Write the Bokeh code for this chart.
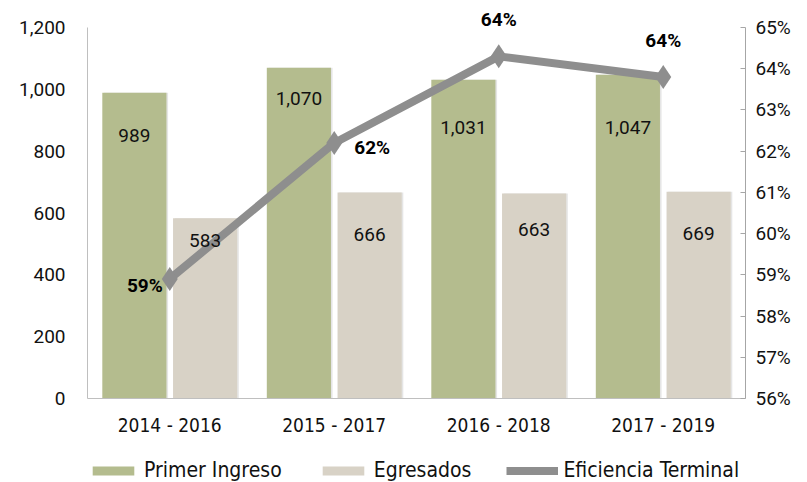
from bokeh.plotting import figure
from bokeh.layouts import column
from bokeh.models import (ColumnDataSource, Range1d, LinearAxis, FactorRange, Legend, LegendItem,
                          NumeralTickFormatter, FixedTicker)
from bokeh.transform import dodge
from bokeh.core.properties import value
from bokeh.embed import file_html
from bokeh.resources import INLINE

categories = ["2014 - 2016", "2015 - 2017", "2016 - 2018", "2017 - 2019"]
primer_ingreso = [989, 1070, 1031, 1047]
egresados = [583, 666, 663, 669]
eficiencia = [0.589, 0.622, 0.643, 0.638]
left_ticks = [0, 200, 400, 600, 800, 1000, 1200]
right_ticks = [0.56, 0.57, 0.58, 0.59, 0.60, 0.61, 0.62, 0.63, 0.64, 0.65]
series_names = ["Primer Ingreso", "Egresados", "Eficiencia Terminal"]

# label placement (screen px offsets, positive = down)
pi_label_dy = [43, 31, 48, 53]
eg_label_dy = [22, 42, 36, 42]
ef_dx = [-7, 20, 0, 0]
ef_dy = [7, 5, -37, -36]
ef_align = ["right", "left", "center", "center"]

GREEN = "#B4BC8E"
BEIGE = "#D8D2C6"
GRAY = "#8E8E8E"
COND = "'DejaVu Sans Condensed', 'Roboto'"

# headroom above the axis top so the top labels are not clipped
HEAD = 22 / 371
p = figure(x_range=FactorRange(*categories), y_range=Range1d(0, 1200 * (1 + HEAD)),
           width=807, height=450, output_backend="svg", toolbar_location=None,
           min_border_left=87, min_border_right=62, min_border_top=5, min_border_bottom=52)
p.outline_line_color = None
p.xgrid.visible = False
p.ygrid.visible = False
p.extra_y_ranges = {"pct": Range1d(0.56, 0.65 + 0.09 * HEAD)}

src = ColumnDataSource(dict(cat=categories, pi=primer_ingreso, eg=egresados, ef=eficiencia,
                            pi_txt=[f"{v:,}" for v in primer_ingreso],
                            eg_txt=[f"{v:,}" for v in egresados],
                            ef_txt=[f"{round(v*100):d}%" for v in eficiencia],
                            pi_dy=pi_label_dy, eg_dy=eg_label_dy,
                            ef_dx=ef_dx, ef_dy=ef_dy, ef_align=ef_align))

# soft shadows
p.vbar(x=dodge("cat", -0.205, range=p.x_range), top="pi", width=0.39, source=src,
       fill_color="#000000", fill_alpha=0.10, line_color=None)
p.vbar(x=dodge("cat", 0.225, range=p.x_range), top="eg", width=0.39, source=src,
       fill_color="#000000", fill_alpha=0.10, line_color=None)

p.vbar(x=dodge("cat", -0.215, range=p.x_range), top="pi", width=0.39, source=src,
       fill_color=GREEN, line_color=None)
p.vbar(x=dodge("cat", 0.215, range=p.x_range), top="eg", width=0.39, source=src,
       fill_color=BEIGE, line_color=None)

p.line(x="cat", y="ef", source=src, y_range_name="pct", line_color=GRAY, line_width=8)
p.scatter(x="cat", y="ef", source=src, y_range_name="pct", marker="diamond", size=24,
          fill_color=GRAY, line_color=None)

p.text(x=dodge("cat", -0.215, range=p.x_range), y="pi", text="pi_txt", y_offset="pi_dy", source=src,
       text_align="center", text_baseline="middle", text_font=value("Roboto"),
       text_font_size="19px", text_color="#111111")
p.text(x=dodge("cat", 0.215, range=p.x_range), y="eg", text="eg_txt", y_offset="eg_dy", source=src,
       text_align="center", text_baseline="middle", text_font=value("Roboto"),
       text_font_size="19px", text_color="#111111")
p.text(x="cat", y="ef", text="ef_txt", x_offset="ef_dx", y_offset="ef_dy", text_align="ef_align",
       y_range_name="pct", source=src, text_baseline="middle", text_font=value("Roboto"),
       text_font_style="bold", text_font_size="19px", text_color="#000000")

# axes
p.yaxis.ticker = FixedTicker(ticks=left_ticks)
p.yaxis.bounds = (left_ticks[0], left_ticks[-1])
p.yaxis.formatter = NumeralTickFormatter(format="0,0")
p.yaxis.major_tick_line_color = None
p.yaxis.minor_tick_line_color = None
p.yaxis.axis_line_color = "#BFBFBF"
p.yaxis.major_label_text_font = "Roboto"
p.yaxis.major_label_text_font_size = "19px"
p.yaxis.major_label_text_color = "#111111"
p.yaxis.major_label_standoff = 16

p.xaxis.axis_line_color = "#BFBFBF"
p.xaxis.major_tick_line_color = None
p.xaxis.minor_tick_line_color = None
p.xaxis.major_label_text_font = COND
p.xaxis.major_label_text_font_size = "19px"
p.xaxis.major_label_text_color = "#111111"
p.xaxis.major_label_standoff = 9

ax2 = LinearAxis(y_range_name="pct", ticker=FixedTicker(ticks=right_ticks),
                 formatter=NumeralTickFormatter(format="0%"), bounds=(right_ticks[0], right_ticks[-1]))
ax2.axis_line_color = "#A6A6A6"
ax2.major_tick_line_color = "#A6A6A6"
ax2.major_tick_in = 5
ax2.major_tick_out = 0
ax2.minor_tick_line_color = None
ax2.major_label_text_font = "Roboto"
ax2.major_label_text_font_size = "19px"
ax2.major_label_text_color = "#111111"
ax2.major_label_standoff = 10
p.add_layout(ax2, "right")

# legend strip below the chart (proxy glyphs sit outside its visible range)
lg = figure(width=807, height=32, x_range=Range1d(0, 1), y_range=Range1d(0, 1),
            output_backend="svg", toolbar_location=None,
            min_border_left=87, min_border_right=62, min_border_top=0, min_border_bottom=0)
lg.axis.visible = False
lg.xgrid.visible = False
lg.ygrid.visible = False
lg.outline_line_color = None
proxy = ColumnDataSource(dict(x=[-5], y=[-5]))
l_pi = lg.vbar(x="x", top="y", width=0.1, source=proxy, fill_color=GREEN, line_color=None)
l_eg = lg.vbar(x="x", top="y", width=0.1, source=proxy, fill_color=BEIGE, line_color=None)
l_ln = lg.line(x="x", y="y", source=proxy, line_color=GRAY, line_width=8)
l_mk = lg.scatter(x="x", y="y", source=proxy, marker="diamond", size=14, fill_color=GRAY, line_color=None)
legend = Legend(items=[LegendItem(label=series_names[0], renderers=[l_pi]),
                       LegendItem(label=series_names[1], renderers=[l_eg]),
                       LegendItem(label=series_names[2], renderers=[l_ln, l_mk])],
                orientation="horizontal", location=(0, 0), glyph_width=52, glyph_height=11,
                label_standoff=5, spacing=35, padding=0, margin=0,
                label_text_font=COND, label_text_font_size="21px",
                label_text_color="#111111", border_line_color=None, background_fill_alpha=0)
lg.add_layout(legend, "center")

open("out.html", "w").write(file_html(column(p, lg, spacing=0), INLINE))
